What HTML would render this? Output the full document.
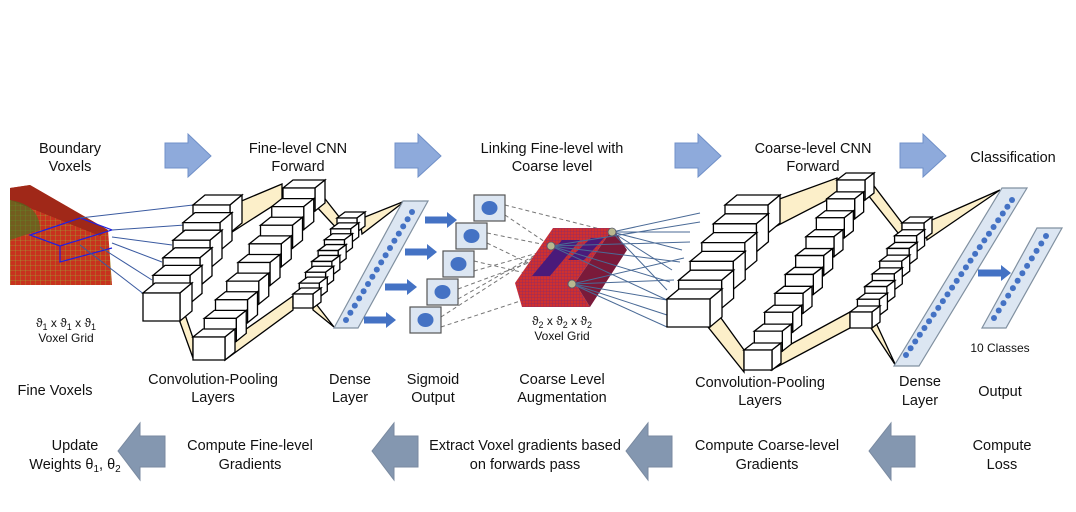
<!DOCTYPE html>
<html><head><meta charset="utf-8"><style>
body{margin:0;background:#fff;}
svg{display:block;font-family:"Liberation Sans",sans-serif;}
text{font-size:14.5px;fill:#111;text-anchor:middle;}
</style></head><body>
<svg id="s" width="1076" height="512" viewBox="0 0 1076 512" xmlns="http://www.w3.org/2000/svg">
<defs>
<pattern id="gr" width="5" height="5" patternUnits="userSpaceOnUse"><rect width="5" height="5" fill="#c8321e"/><path d="M0 0H5M0 0V5" stroke="#8fbf3a" stroke-width="0.6"/></pattern>
<pattern id="rb" width="3" height="3" patternUnits="userSpaceOnUse"><rect width="3" height="3" fill="#d0302e"/><path d="M0 0H3M0 0V3" stroke="#6a2a8a" stroke-width="0.5"/></pattern>
</defs>
<g fill="#8eaadb" stroke="#7090c8">
<path d="M165 143H188V134L211 156L188 177V168H165Z"/>
<path d="M395 143H418V134L441 156L418 177V168H395Z"/>
<path d="M675 143H698V134L721 156L698 177V168H675Z"/>
<path d="M900 143H923V134L946 156L923 177V168H900Z"/>
</g>
<g fill="#8497b0" stroke="#7a8aa0">
<path d="M165 436H140V423L118 451L140 480V467H165Z"/>
<path d="M418 436H394V423L372 451L394 480V467H418Z"/>
<path d="M672 436H648V423L626 451L648 480V467H672Z"/>
<path d="M915 436H891V423L869 451L891 480V467H915Z"/>
</g>
<text x="70" y="153">Boundary</text><text x="70" y="171">Voxels</text>
<text x="298" y="153">Fine-level CNN</text><text x="298" y="171">Forward</text>
<text x="552" y="153">Linking Fine-level with</text><text x="552" y="171">Coarse level</text>
<text x="813" y="153">Coarse-level CNN</text><text x="813" y="171">Forward</text>
<text x="1013" y="162">Classification</text>
<text x="55" y="395">Fine Voxels</text>
<text x="213" y="384">Convolution-Pooling</text><text x="213" y="402">Layers</text>
<text x="350" y="384">Dense</text><text x="350" y="402">Layer</text>
<text x="433" y="384">Sigmoid</text><text x="433" y="402">Output</text>
<text x="562" y="384">Coarse Level</text><text x="562" y="402">Augmentation</text>
<text x="760" y="387">Convolution-Pooling</text><text x="760" y="405">Layers</text>
<text x="920" y="386">Dense</text><text x="920" y="405">Layer</text>
<text x="1000" y="396">Output</text>
<text x="75" y="450">Update</text><text x="75" y="469">Weights θ<tspan font-size="10" dy="3">1</tspan><tspan dy="-3">, θ</tspan><tspan font-size="10" dy="3">2</tspan></text>
<text x="250" y="450">Compute Fine-level</text><text x="250" y="469">Gradients</text>
<text x="525" y="450">Extract Voxel gradients based</text><text x="525" y="469">on forwards pass</text>
<text x="767" y="450">Compute Coarse-level</text><text x="767" y="469">Gradients</text>
<text x="1002" y="450">Compute</text><text x="1002" y="469">Loss</text>
<text x="66" y="327" style="font-size:12px">ϑ<tspan font-size="9" dy="3">1</tspan><tspan dy="-3"> x ϑ</tspan><tspan font-size="9" dy="3">1</tspan><tspan dy="-3"> x ϑ</tspan><tspan font-size="9" dy="3">1</tspan></text>
<text x="66" y="342" style="font-size:12px">Voxel Grid</text>
<text x="562" y="325" style="font-size:12px">ϑ<tspan font-size="9" dy="3">2</tspan><tspan dy="-3"> x ϑ</tspan><tspan font-size="9" dy="3">2</tspan><tspan dy="-3"> x ϑ</tspan><tspan font-size="9" dy="3">2</tspan></text>
<text x="562" y="340" style="font-size:12px">Voxel Grid</text>
<text x="1000" y="352" style="font-size:12px">10 Classes</text>
<g id="fg"></g>
</svg>
<script>
var S='';
function P(pts,f,st,sw,extra){S+='<polygon points="'+pts+'" fill="'+f+'" stroke="'+(st||'#000')+'" stroke-width="'+(sw||1.3)+'" '+(extra||'')+'/>';}
function L(x1,y1,x2,y2,c,sw,da){S+='<line x1="'+x1+'" y1="'+y1+'" x2="'+x2+'" y2="'+y2+'" stroke="'+c+'" stroke-width="'+(sw||1)+'"'+(da?' stroke-dasharray="'+da+'"':'')+'/>';}
function box(x,y,w,h,dx,dy){
 P(x+','+y+' '+(x+dx)+','+(y-dy)+' '+(x+w+dx)+','+(y-dy)+' '+(x+w)+','+y,'#fff');
 P((x+w)+','+y+' '+(x+w+dx)+','+(y-dy)+' '+(x+w+dx)+','+(y+h-dy)+' '+(x+w)+','+(y+h),'#fff');
 P(x+','+y+' '+(x+w)+','+y+' '+(x+w)+','+(y+h)+' '+x+','+(y+h),'#fff');
}
function stack(x0,y0,x1,y1,n,w,h,dx,dy){for(var i=n-1;i>=0;i--){var t=i/(n-1);box(x0+(x1-x0)*t,y0+(y1-y0)*t,w,h,dx,dy);}}
function col(a,b,c,d,n,x0,y0,x1,y1){P(a+' '+b+' '+c+' '+d,'#dce6f2','#8090a0',1.2);for(var i=0;i<n;i++){var t=i/(n-1);S+='<circle cx="'+(x0+(x1-x0)*t)+'" cy="'+(y0+(y1-y0)*t)+'" r="3" fill="#4472c4"/>';}}
function arr(x,y,l){S+='<path d="M'+x+' '+(y-3.5)+'H'+(x+l-10)+'V'+(y-8)+'L'+(x+l)+' '+y+'L'+(x+l-10)+' '+(y+8)+'V'+(y+3.5)+'H'+x+'Z" fill="#4472c4"/>';}
var Y='#fcefc9';
S+='<polygon points="10,188 30,185 108,230 112,285 10,285" fill="url(#gr)"/>';
S+='<polygon points="10,188 30,185 108,230 100,236 10,200" fill="#a02818"/>';
S+='<path d="M10 200 Q40 205 40 230 L10 240Z" fill="#3a7a20" opacity="0.6"/>';
S+='<polygon points="30,235 80,218 112,230 60,246" fill="none" stroke="#2020e0" stroke-width="1.2"/>';
S+='<polyline points="60,246 60,262 112,248" fill="none" stroke="#2020e0" stroke-width="1.2"/>';
[[80,218,193,205],[112,230,185,225],[112,237,172,245],[112,243,162,262],[100,247,152,280],[80,245,145,295]].forEach(function(a){L(a[0],a[1],a[2],a[3],'#3a5aa0',1);});
P('232,205 282,184 282,200 232,232',Y);
P('180,300 193,338 193,358 180,322',Y);
P('315,186 340,218 340,232 315,205',Y);
P('225,344 293,296 293,310 225,360',Y);
P('360,219 405,201 362,234',Y);
P('313,300 334,327 313,310',Y);
stack(143,293,193,205,6,37,28,12,10);
stack(193,337,283,188,9,32,23,10,8);
stack(293,294,337,218,8,20,14,8,6);
col('403,201','428,201','358,328','334,328',16,412,212,346,320);
arr(425,220,32);arr(405,252,32);arr(385,287,32);arr(364,320,32);
var bx=[[474,195],[456,223],[443,251],[427,279],[410,307]];
var nodes=[[612,232],[551,246],[572,284]];
bx.forEach(function(b,i){L(b[0]+31,b[1]+10,nodes[i%3][0],nodes[i%3][1],'#777',1,'4,3');L(b[0]+31,b[1]+20,nodes[(i+1)%3][0],nodes[(i+1)%3][1],'#777',1,'4,3');});
bx.forEach(function(b){S+='<rect x="'+b[0]+'" y="'+b[1]+'" width="31" height="26" fill="#dce6f2" stroke="#555" stroke-width="1.2"/><ellipse cx="'+(b[0]+15.5)+'" cy="'+(b[1]+13)+'" rx="8" ry="7" fill="#4472c4"/>';});
S+='<polygon points="553,228 613,228 575,283 515,283" fill="url(#rb)"/>';
S+='<polygon points="515,283 575,283 590,307 522,307" fill="url(#rb)"/>';
S+='<polygon points="613,228 627,250 590,307 575,283" fill="#7a1a3a"/>';
S+='<polygon points="562,240 580,240 550,276 532,276" fill="#4a1a7a"/>';
S+='<polygon points="591,238 604,238 584,260 568,260" fill="#4a1a7a"/>';
var T=[[[700,213],[690,232],[682,250],[672,270],[667,290]],[[700,222],[690,242],[680,262],[670,282],[667,300]],[[684,258],[674,280],[667,300],[667,315],[667,327]]];
nodes.forEach(function(n,k){T[k].forEach(function(p){L(n[0],n[1],p[0],p[1],'#4a6a96',1);});});
nodes.forEach(function(n){S+='<circle cx="'+n[0]+'" cy="'+n[1]+'" r="4" fill="#b8b890" stroke="#556" stroke-width="0.8"/>';});
P('763,205 837,178 837,195 765,232',Y);
P('868,178 902,223 902,238 868,195',Y);
P('925,223 1000,190 927,240',Y);
P('708,300 744,350 744,372 708,327',Y);
P('771,355 850,312 850,328 771,370',Y);
P('871,312 896,366 871,328',Y);
stack(667,299,725,205,6,43,28,12,10);
stack(744,350,837,180,10,28,20,9,7);
stack(850,312,902,223,8,22,16,8,6);
col('1002,188','1027,188','919,366','894,366',24,1012,200,906,355);
arr(978,273,33);
col('1037,228','1062,228','1006,328','982,328',12,1046,236,994,318);
document.getElementById('fg').outerHTML='<g>'+S+'</g>';
</script>
</body></html>
